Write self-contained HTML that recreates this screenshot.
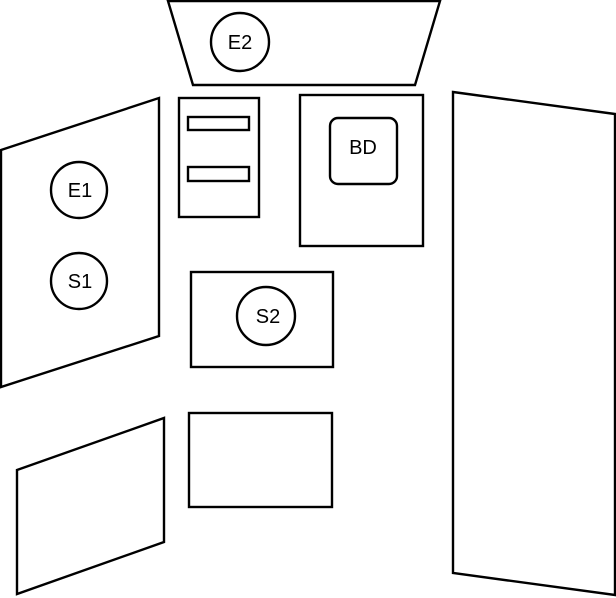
<!DOCTYPE html>
<html><head><style>html,body{margin:0;padding:0;background:#fff;}svg{display:block}</style></head>
<body>
<svg width="616" height="598" viewBox="0 0 616 598" xmlns="http://www.w3.org/2000/svg" fill="none" stroke="#000" stroke-width="2.4" font-family="Liberation Sans, sans-serif" font-size="20">
<polygon points="168,1 440,1 415,85 193,85"/>
<circle cx="240" cy="42" r="29"/>
<polygon points="1,150 159,98 159,336 1,387"/>
<circle cx="79" cy="190" r="28"/>
<circle cx="79" cy="281" r="28"/>
<rect x="179" y="98" width="80" height="119"/>
<rect x="188" y="117" width="61" height="13"/>
<rect x="188" y="167" width="61" height="14"/>
<rect x="300" y="95" width="123" height="151"/>
<rect x="330" y="118" width="67" height="66" rx="8"/>
<polygon points="453,92 615,114 615,595 453,573"/>
<rect x="191" y="272" width="142" height="95"/>
<circle cx="266" cy="316" r="29"/>
<polygon points="17,470 164,418 164,542 17,594"/>
<rect x="189" y="413" width="143" height="94"/>
<g fill="#000" stroke="none" text-anchor="middle">
<text x="240" y="49">E2</text>
<text x="80" y="197">E1</text>
<text x="80" y="288">S1</text>
<text x="363" y="154">BD</text>
<text x="268" y="323">S2</text>
</g>
</svg>
</body></html>
